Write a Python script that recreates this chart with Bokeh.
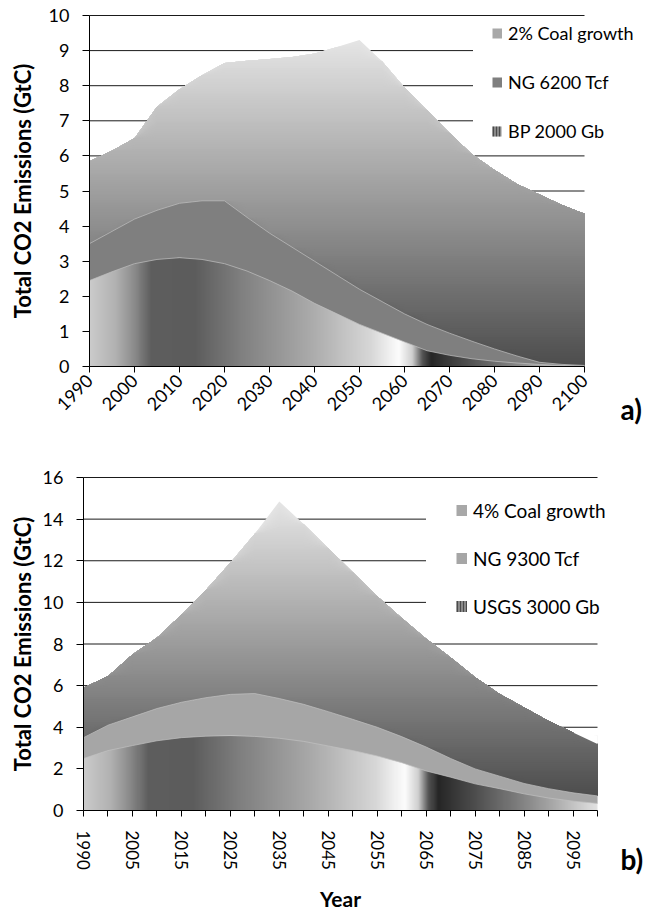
import math
import numpy as np
from bokeh.plotting import figure
from bokeh.layouts import column
from bokeh.models import FixedTicker, Label, Legend, LegendItem, Range1d
from bokeh.core.properties import value
from bokeh.embed import file_html
from bokeh.resources import INLINE

FONT = "Lato"

# ---------------- data: panel a) ----------------
years_a = [1990, 1995, 2000, 2005, 2010, 2015, 2020, 2025, 2030, 2035, 2040,
           2045, 2050, 2055, 2060, 2065, 2070, 2075, 2080, 2085, 2090, 2095, 2100]
oil_bp2000_a = [2.45, 2.70, 2.93, 3.05, 3.10, 3.05, 2.93, 2.72, 2.45, 2.15, 1.80,
                1.50, 1.20, 0.95, 0.70, 0.45, 0.32, 0.22, 0.15, 0.10, 0.06, 0.03, 0.01]
gas_ng6200_a = [1.05, 1.15, 1.27, 1.40, 1.55, 1.67, 1.79, 1.53, 1.35, 1.25, 1.20,
                1.10, 1.00, 0.90, 0.80, 0.75, 0.63, 0.50, 0.35, 0.20, 0.06, 0.03, 0.02]
coal_2pct_a = [2.35, 2.30, 2.30, 2.95, 3.25, 3.58, 3.93, 4.46, 4.96, 5.42, 5.92,
               6.50, 7.10, 6.85, 6.45, 6.10, 5.70, 5.33, 5.10, 4.90, 4.78, 4.54, 4.32]
ticks_a = [1990, 2000, 2010, 2020, 2030, 2040, 2050, 2060, 2070, 2080, 2090, 2100]
labels_a = ["2% Coal growth", "NG 6200 Tcf", "BP 2000 Gb"]

# ---------------- data: panel b) ----------------
years_b = [1990, 2000, 2005, 2010, 2015, 2020, 2025, 2030, 2035, 2040, 2045,
           2050, 2055, 2060, 2065, 2070, 2075, 2080, 2085, 2090, 2095, 2100]
oil_usgs3000_b = [2.50, 2.88, 3.12, 3.35, 3.50, 3.57, 3.60, 3.56, 3.47, 3.32, 3.10,
                  2.88, 2.62, 2.30, 1.90, 1.60, 1.28, 1.05, 0.80, 0.60, 0.45, 0.34]
gas_ng9300_b = [1.00, 1.22, 1.38, 1.55, 1.70, 1.85, 1.98, 2.06, 1.91, 1.78, 1.65,
                1.50, 1.38, 1.25, 1.15, 0.90, 0.72, 0.60, 0.50, 0.45, 0.40, 0.36]
coal_4pct_b = [2.40, 2.35, 3.00, 3.40, 4.20, 5.18, 6.32, 7.68, 9.47, 8.65, 7.85,
               7.07, 6.30, 5.70, 5.20, 4.85, 4.40, 3.95, 3.65, 3.25, 2.90, 2.50]
labels_b = ["4% Coal growth", "NG 9300 Tcf", "USGS 3000 Gb"]

YTITLE = "Total CO2 Emissions (GtC)"

# ---------------- styles ----------------
OIL_STOPS = [(0.00, 0xcb), (0.05, 0xb3), (0.09, 0x8a), (0.125, 0x5e), (0.21, 0x5c),
             (0.30, 0x7e), (0.45, 0xac), (0.57, 0xd8), (0.625, 0xfd), (0.652, 0xcf),
             (0.672, 0x55), (0.69, 0x26), (0.75, 0x47), (0.87, 0x8c), (1.00, 0xe2)]
COAL_TOP, COAL_BOTTOM = 0xe5, 0x4d


def gray(v):
    v = int(round(v))
    return "#%02x%02x%02x" % (v, v, v)


def hgradient_image(stops, ncols=500, nrows=120):
    t = np.linspace(0, 1, ncols)
    g = np.interp(t, [s[0] for s in stops], [s[1] for s in stops]).astype(np.uint8)
    img = np.empty((nrows, ncols), dtype=np.uint32)
    view = img.view(dtype=np.uint8).reshape((nrows, ncols, 4))
    view[:, :, 0] = g
    view[:, :, 1] = g
    view[:, :, 2] = g
    view[:, :, 3] = 255
    return img


def make_panel(x, oil, gas, coal, labels, ng_color, W, H, xr, yr, ymax, ystep,
               leg_loc, leg_font, gap, sw, leg_gh, leg_sp, stripes):
    p = figure(width=W, height=H, output_backend="svg", toolbar_location=None,
               x_range=Range1d(*xr), y_range=Range1d(*yr),
               min_border_left=0, min_border_right=0, min_border_top=0,
               min_border_bottom=0)
    p.outline_line_color = None
    p.background_fill_color = "white"
    p.border_fill_color = "white"
    p.xgrid.visible = False
    p.ygrid.visible = False

    x_first, x_last = x[0], x[-1]
    yticks = list(range(0, ymax + 1, ystep))
    # horizontal grid lines (under the areas)
    p.segment(x0=[x_first] * (len(yticks) - 1), x1=[x_last] * (len(yticks) - 1),
              y0=yticks[1:], y1=yticks[1:], line_color="#1a1a1a", line_width=1)

    s1 = np.array(oil)
    s2 = s1 + np.array(gas)
    s3 = s2 + np.array(coal)

    # oil: horizontal gradient, its upper part is covered by the other layers
    h = float(s1.max())
    p.image_rgba(image=[hgradient_image(OIL_STOPS)], x=x_first, y=0,
                 dw=x_last - x_first, dh=h)

    # coal: vertical gradient built from stacked bands (top band first)
    top, bot = float(s3.max()), float(s2.min())
    step = (top - bot) / 140.0
    k = 0
    while True:
        a = top - k * step
        if a <= bot:
            break
        mid = a - step / 2
        frac = (top - mid) / (top - bot)
        col = gray(COAL_TOP + (COAL_BOTTOM - COAL_TOP) * frac)
        p.varea(x=x, y1=s2, y2=np.clip(a, s2, s3), fill_color=col)
        k += 1

    p.varea(x=x, y1=s1, y2=s2, fill_color=ng_color)
    p.varea(x=x, y1=s3, y2=np.maximum(s3, h), fill_color="white")
    p.line(x=x, y=s2, line_color="#c2c2c2", line_width=0.7)
    p.line(x=x, y=s1, line_color="#c2c2c2", line_width=0.7)

    # legend swatches: thick dashed lines whose only dash sits at the right end
    nan = [float("nan")]
    dash = "0 %d %d" % (gap, sw)

    def swatch(color, pattern):
        return p.line(x=nan, y=nan, line_color=color, line_width=sw, line_dash=pattern,
                      line_cap="butt")

    d_coal = swatch("#a8a8a8", dash)
    d_gas = swatch(ng_color, dash)
    d_oil1 = swatch("#c8c8c8", dash)
    d_oil2 = swatch("#4a4a4a", "0 %d %s 40" % (gap, stripes))
    legend = Legend(items=[LegendItem(label=value(labels[0]), renderers=[d_coal]),
                           LegendItem(label=value(labels[1]), renderers=[d_gas]),
                           LegendItem(label=value(labels[2]), renderers=[d_oil1, d_oil2])],
                    location=leg_loc, glyph_width=gap + sw, glyph_height=leg_gh,
                    label_height=20, spacing=leg_sp, padding=20, margin=0,
                    label_standoff=6, label_text_font=FONT,
                    label_text_font_size=leg_font, label_text_color="black",
                    border_line_color=None, background_fill_color="white",
                    background_fill_alpha=1.0)
    p.add_layout(legend)

    for ax in (p.xaxis[0], p.yaxis[0]):
        ax.axis_line_color = "black"
        ax.axis_line_width = 1
        ax.major_tick_line_color = "black"
        ax.major_tick_in = 0
        ax.minor_tick_line_color = None
        ax.major_label_text_font = FONT
        ax.major_label_text_color = "black"
    p.yaxis.ticker = FixedTicker(ticks=yticks)
    p.yaxis.fixed_location = x_first
    p.yaxis.bounds = (0, ymax)
    p.yaxis.major_tick_out = 7
    p.yaxis.major_label_standoff = 13
    p.yaxis.major_label_text_font_size = "18px"
    p.xaxis.fixed_location = 0
    p.xaxis.bounds = (x_first, x_last)
    p.xaxis.major_tick_out = 6
    return p


def text_label(p, x, y, text, size, angle=0.0, align="left"):
    p.add_layout(Label(x=x, y=y, text=text, angle=angle, text_font=FONT,
                       text_font_style="bold", text_font_size=size,
                       text_align=align, text_baseline="middle", text_color="black"))


# ---- panel a (canvas 647x440): 1990 at x=89px, 2100 at 584px; 10 at y=15px, 0 at 366px
HA = 440
ppx_a = (584 - 89) / (years_a[-1] - years_a[0])
ppy_a = (366 - 15) / 10
pa = make_panel(years_a, oil_bp2000_a, gas_ng6200_a, coal_2pct_a, labels_a, "#7f7f7f",
                647, HA,
                (years_a[0] - 89 / ppx_a, years_a[-1] + (647 - 584) / ppx_a),
                (-(HA - 366) / ppy_a, 10 + 15 / ppy_a), 10, 1, (473, 297), "18px",
                19, 10, 24, 25, "2 1 2 1 2")
pa.xaxis.ticker = FixedTicker(ticks=ticks_a)
pa.xaxis.major_label_orientation = math.pi / 4
pa.xaxis.major_label_standoff = 5
pa.xaxis.major_label_text_font_size = "18px"
text_label(pa, years_a[0] - (89 - 22) / ppx_a, 5, YTITLE, "22px", angle=math.pi / 2,
           align="center")
text_label(pa, years_a[-1] + (620 - 584) / ppx_a, -(408 - 366) / ppy_a, "a)", "28px")

# ---- panel b (canvas 647x470, starts at page y=440): index 0 at x=83px, 21 at 597px;
#      16 at page y=477, 0 at page y=810
HB = 470
Y0B = 440
idx_b = list(range(len(years_b)))
ppx_b = (597 - 83) / (len(years_b) - 1)
ppy_b = (810 - 477) / 16
pb = make_panel(idx_b, oil_usgs3000_b, gas_ng9300_b, coal_4pct_b, labels_b, "#a6a6a6",
                647, HB,
                (-83 / ppx_b, idx_b[-1] + (647 - 597) / ppx_b),
                (-(Y0B + HB - 810) / ppy_b, 16 + (477 - Y0B) / ppy_b), 16, 2,
                (426, 291), "19px", 30, 11, 26, 22, "2 1 2 1 2 1 2")
pb.xaxis.ticker = FixedTicker(ticks=idx_b)
pb.xaxis.major_label_overrides = {i: (str(years_b[i]) if i % 2 == 0 else "") for i in idx_b}
pb.xaxis.major_label_orientation = "vertical"
pb.xaxis.major_label_standoff = 14
pb.xaxis.major_label_text_font_size = "17px"
text_label(pb, -(83 - 22) / ppx_b, 8, YTITLE, "22px", angle=math.pi / 2, align="center")
text_label(pb, idx_b[-1] / 2, -(898 - 810) / ppy_b, "Year", "21px", align="center")
text_label(pb, idx_b[-1] + (620 - 597) / ppx_b, -(858 - 810) / ppy_b, "b)", "28px")

layout = column(pa, pb, spacing=0)
open("out.html", "w").write(file_html(layout, INLINE))
